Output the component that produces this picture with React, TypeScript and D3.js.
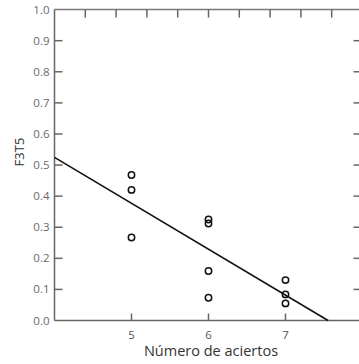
import React from "react";
import * as d3 from "d3";

const xValues = [5, 5, 5, 6, 6, 6, 6, 7, 7, 7];
const yValues = [0.468, 0.42, 0.267, 0.325, 0.312, 0.159, 0.073, 0.13, 0.084, 0.055];
const xTickValues = [5, 6, 7];
const topTickValues = [4.4, 4.8, 5.2, 5.6, 6.0, 6.4, 6.8, 7.2, 7.6];
const yTickValues = [0.0, 0.1, 0.2, 0.3, 0.4, 0.5, 0.6, 0.7, 0.8, 0.9, 1.0];
const xTitle = "Número de aciertos";
const yTitle = "F3T5";

const W = 359;
const H = 364;

export default function App() {
  const x = d3.scaleLinear().domain([4, 8]).range([54.5, 362.5]);
  const y = d3.scaleLinear().domain([0, 1]).range([320.5, 9.6]);

  // least-squares fit
  const mx = d3.mean(xValues) as number;
  const my = d3.mean(yValues) as number;
  let sxy = 0, sxx = 0;
  xValues.forEach((xv, i) => {
    sxy += (xv - mx) * (yValues[i] - my);
    sxx += (xv - mx) * (xv - mx);
  });
  const slope = sxy / sxx;
  const intercept = my - slope * mx;
  const xEnd = -intercept / slope;
  const fitPts: [number, number][] = [
    [4, intercept + slope * 4],
    [xEnd, 0],
  ];
  const line = d3.line<[number, number]>().x((d) => x(d[0])).y((d) => y(d[1]));

  const axisColor = "#7a7a7a";
  const font = "'Open Sans', 'Noto Sans', sans-serif";
  const x0 = x(4);
  const x1 = x(8);
  const y0 = y(0);
  const y1 = y(1);

  return (
    <svg width={W} height={H} style={{ position: "absolute", left: 0, top: 0, background: "#fff" }}>
      <rect x={0} y={0} width={W} height={H} fill="#fff" />
      {/* frame */}
      <line x1={x0} x2={x1} y1={y1} y2={y1} stroke={axisColor} strokeWidth={1.5} />
      <line x1={x0} x2={x1} y1={y0} y2={y0} stroke="#666" strokeWidth={1.5} />
      <line x1={x0} x2={x0} y1={y1} y2={y0} stroke="#666" strokeWidth={1.5} />
      <line x1={x1} x2={x1} y1={y1} y2={y0} stroke={axisColor} strokeWidth={1.5} />
      {/* top ticks */}
      {topTickValues.map((t) => (
        <line key={"tt" + t} x1={x(t)} x2={x(t)} y1={y1} y2={y1 + 8} stroke="#666" strokeWidth={1.5} />
      ))}
      {/* bottom ticks */}
      {xTickValues.map((t) => (
        <g key={"bt" + t}>
          <line x1={x(t)} x2={x(t)} y1={y0} y2={y0 - 7} stroke="#666" strokeWidth={1.5} />
          <text x={x(t)} y={339} textAnchor="middle" fontSize={11.5} fill="#555" fontFamily={font}>
            {t}
          </text>
        </g>
      ))}
      {/* y ticks */}
      {yTickValues.map((t) => (
        <g key={"yt" + t}>
          {t > 0 && t < 1 && (
            <>
              <line x1={x0} x2={x0 + 8} y1={y(t)} y2={y(t)} stroke="#666" strokeWidth={1.5} />
              <line x1={x1} x2={x1 - 9} y1={y(t)} y2={y(t)} stroke="#666" strokeWidth={1.5} />
            </>
          )}
          <text
            x={49.5}
            y={y(t)}
            dy="0.35em"
            textAnchor="end"
            fontSize={11.5}
            fill="#6a6a6a"
            fontFamily={font}
          >
            {t.toFixed(1)}
          </text>
        </g>
      ))}
      {/* regression line */}
      <path d={line(fitPts) || ""} fill="none" stroke="#111" strokeWidth={1.6} />
      {/* points */}
      {xValues.map((xv, i) => (
        <circle key={"p" + i} cx={x(xv)} cy={y(yValues[i])} r={3.2} fill="none" stroke="#111" strokeWidth={1.5} />
      ))}
      {/* titles */}
      <text x={211} y={356} textAnchor="middle" fontSize={14.5} fill="#333" fontFamily={font}>
        {xTitle}
      </text>
      <text
        transform={`translate(24,152) rotate(-90)`}
        textAnchor="middle"
        fontSize={13}
        fill="#333"
        fontFamily={font}
      >
        {yTitle}
      </text>
    </svg>
  );
}
